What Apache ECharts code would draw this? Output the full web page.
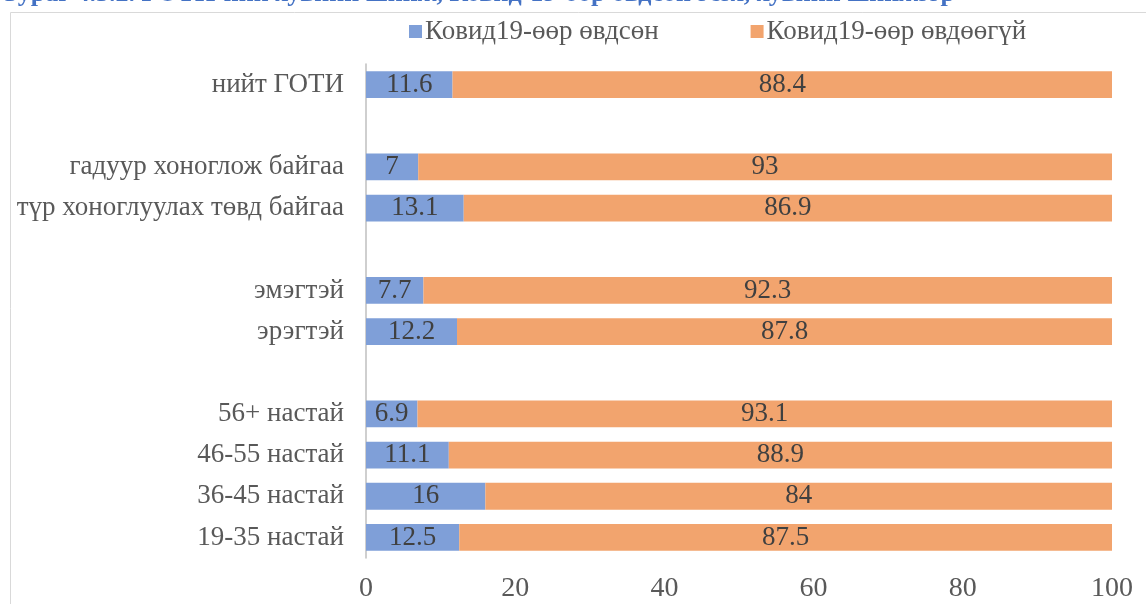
<!DOCTYPE html>
<html><head><meta charset="utf-8">
<script src="https://cdn.jsdelivr.net/npm/echarts@6/dist/echarts.min.js"></script>
<style>html,body{margin:0;padding:0;background:#fff}#c{width:1146px;height:604px}</style>
</head><body><div id="c"></div>
<script>
const categories = ['19-35 настай','36-45 настай','46-55 настай','56+ настай','','эрэгтэй','эмэгтэй','','түр хоноглуулах төвд байгаа','гадуур хоноглож байгаа','','нийт ГОТИ'];
const sick = [12.5,16,11.1,6.9,null,12.2,7.7,null,13.1,7,null,11.6];
const notSick = [87.5,84,88.9,93.1,null,87.8,92.3,null,86.9,93,null,88.4];
const seriesNames = ['Ковид19-өөр өвдсөн','Ковид19-өөр өвдөөгүй'];
const xTicks = [0,20,40,60,80,100];
const titleText = 'Зураг 4.3.2. ГОТИ-ний хувийн шинж, Ковид-19-өөр өвдсөн эсэх, хувийн шинжээр';

const font = 'Times New Roman, Liberation Serif, serif';
const chart = echarts.init(document.getElementById('c'));
const lbl = {show:true, position:'inside', color:'#404040', fontFamily:font, fontSize:27};
chart.setOption({
  animation:false,
  textStyle:{fontFamily:font},
  graphic:[
    {type:'polyline', shape:{points:[[10.5,604],[10.5,12.5],[1146,12.5]]}, style:{stroke:'#d9d9d9', lineWidth:1, fill:null}},
    {type:'text', left:4, top:-19, style:{text:titleText, fill:'#4472C4', fontFamily:font, fontWeight:'bold', fontSize:26}}
  ],
  legend:{top:13, left:404, itemWidth:13, itemHeight:13, itemGap:92, icon:'rect',
    textStyle:{fontFamily:font, fontSize:27, color:'#595959', padding:[0,0,0,-2]}, data:seriesNames},
  grid:{left:366, right:34, top:64, bottom:46, containLabel:false},
  xAxis:{type:'value', min:0, max:100, interval:20,
    axisLabel:{fontFamily:font, fontSize:28, color:'#595959', margin:17, formatter:v=>xTicks.includes(v)?String(v):''},
    splitLine:{show:false}, axisLine:{show:false}, axisTick:{show:false}},
  yAxis:{type:'category', data:categories,
    axisLine:{show:true, lineStyle:{color:'#bfbfbf', width:1.5}}, axisTick:{show:false},
    axisLabel:{fontFamily:font, fontSize:27, color:'#595959', margin:22}},
  series:[
    {name:seriesNames[0], type:'bar', stack:'a', data:sick, barWidth:'65%', itemStyle:{color:'#7F9FD8'}, label:lbl},
    {name:seriesNames[1], type:'bar', stack:'a', data:notSick, barWidth:'65%', itemStyle:{color:'#F2A46E'}, label:lbl}
  ]
});
</script></body></html>
